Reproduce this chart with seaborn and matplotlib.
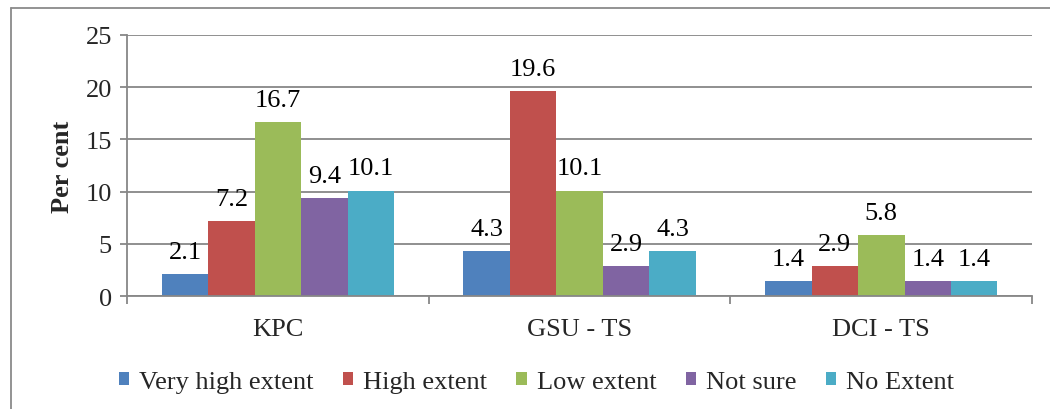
import matplotlib
matplotlib.use("Agg")
import matplotlib.pyplot as plt
from matplotlib.lines import Line2D
import seaborn as sns
import pandas as pd

# Survey responses (per cent) by institution and extent level
categories = ["KPC", "GSU - TS", "DCI - TS"]
levels = ["Very high extent", "High extent", "Low extent", "Not sure", "No Extent"]
very_high = [2.1, 4.3, 1.4]
high = [7.2, 19.6, 2.9]
low = [16.7, 10.1, 5.8]
not_sure = [9.4, 2.9, 1.4]
no_extent = [10.1, 4.3, 1.4]
y_ticks = [0, 5, 10, 15, 20, 25]

colors = ["#4F81BD", "#C0504D", "#9BBB59", "#8064A2", "#4BACC6"]

series = [very_high, high, low, not_sure, no_extent]
rows = []
for lvl, vals in zip(levels, series):
    for cat, v in zip(categories, vals):
        rows.append({"Institution": cat, "Extent": lvl, "Percent": v})
df = pd.DataFrame(rows)

sns.set_theme(style="white")
plt.rcParams["font.family"] = ["Liberation Serif", "DejaVu Serif"]
FS = 19

fig = plt.figure(figsize=(10.5, 4.1), dpi=100)
ax = fig.add_axes([0.121, 0.2756, 0.862, 0.6366])

sns.barplot(data=df, x="Institution", y="Percent", hue="Extent",
            order=categories, hue_order=levels, palette=colors,
            width=0.77, linewidth=0, saturation=1, ax=ax, legend=True)

grid_c = "#878787"
ax.set_ylim(0, 25)
ax.set_xlim(-0.5, 2.5)
ax.set_yticks(y_ticks)
ax.yaxis.grid(True, color=grid_c, linewidth=1.3)
ax.set_axisbelow(True)
for side in ["top", "right"]:
    ax.spines[side].set_visible(False)
for side in ["left", "bottom"]:
    ax.spines[side].set_color(grid_c)
    ax.spines[side].set_linewidth(1.3)

ax.tick_params(axis="y", length=5, width=1.3, color=grid_c, labelsize=FS, pad=6,
               left=True)
ax.set_yticklabels([str(t) for t in y_ticks], family="Liberation Serif")
ax.set_xticks([0, 1, 2])
ax.set_xticklabels(categories, fontsize=FS, family="Liberation Serif")
ax.tick_params(axis="x", length=0, pad=16)
# category boundary ticks
ax.set_xticks([-0.5, 0.5, 1.5, 2.5], minor=True)
ax.tick_params(axis="x", which="minor", length=6, width=1.3, color=grid_c,
               bottom=True, direction="out")

ax.set_xlabel("")
ax.set_ylabel("Per cent", fontsize=FS, fontweight="bold", labelpad=8,
              family="Liberation Serif")

for cont in ax.containers:
    ax.bar_label(cont, fmt="%.1f", padding=8, fontsize=FS, color="black",
                 family="Liberation Serif")

handles, labels = ax.get_legend_handles_labels()
ax.legend_.remove()
fig.legend(handles, labels, loc="center", bbox_to_anchor=(0.511, 0.066),
           ncol=5, frameon=False, prop={"family": "Liberation Serif", "size": FS},
           handlelength=0.4, handleheight=0.4, handletextpad=0.38,
           columnspacing=1.1)

# outer chart frame
bx, by = 11 / 1050, 1 - 9 / 410
fig.add_artist(Line2D([bx, bx], [by, -0.05], transform=fig.transFigure,
                      color="#8a8a8a", linewidth=1.3))
fig.add_artist(Line2D([bx, 1.05], [by, by], transform=fig.transFigure,
                      color="#8a8a8a", linewidth=1.3))

fig.savefig("out.png", dpi=100)
